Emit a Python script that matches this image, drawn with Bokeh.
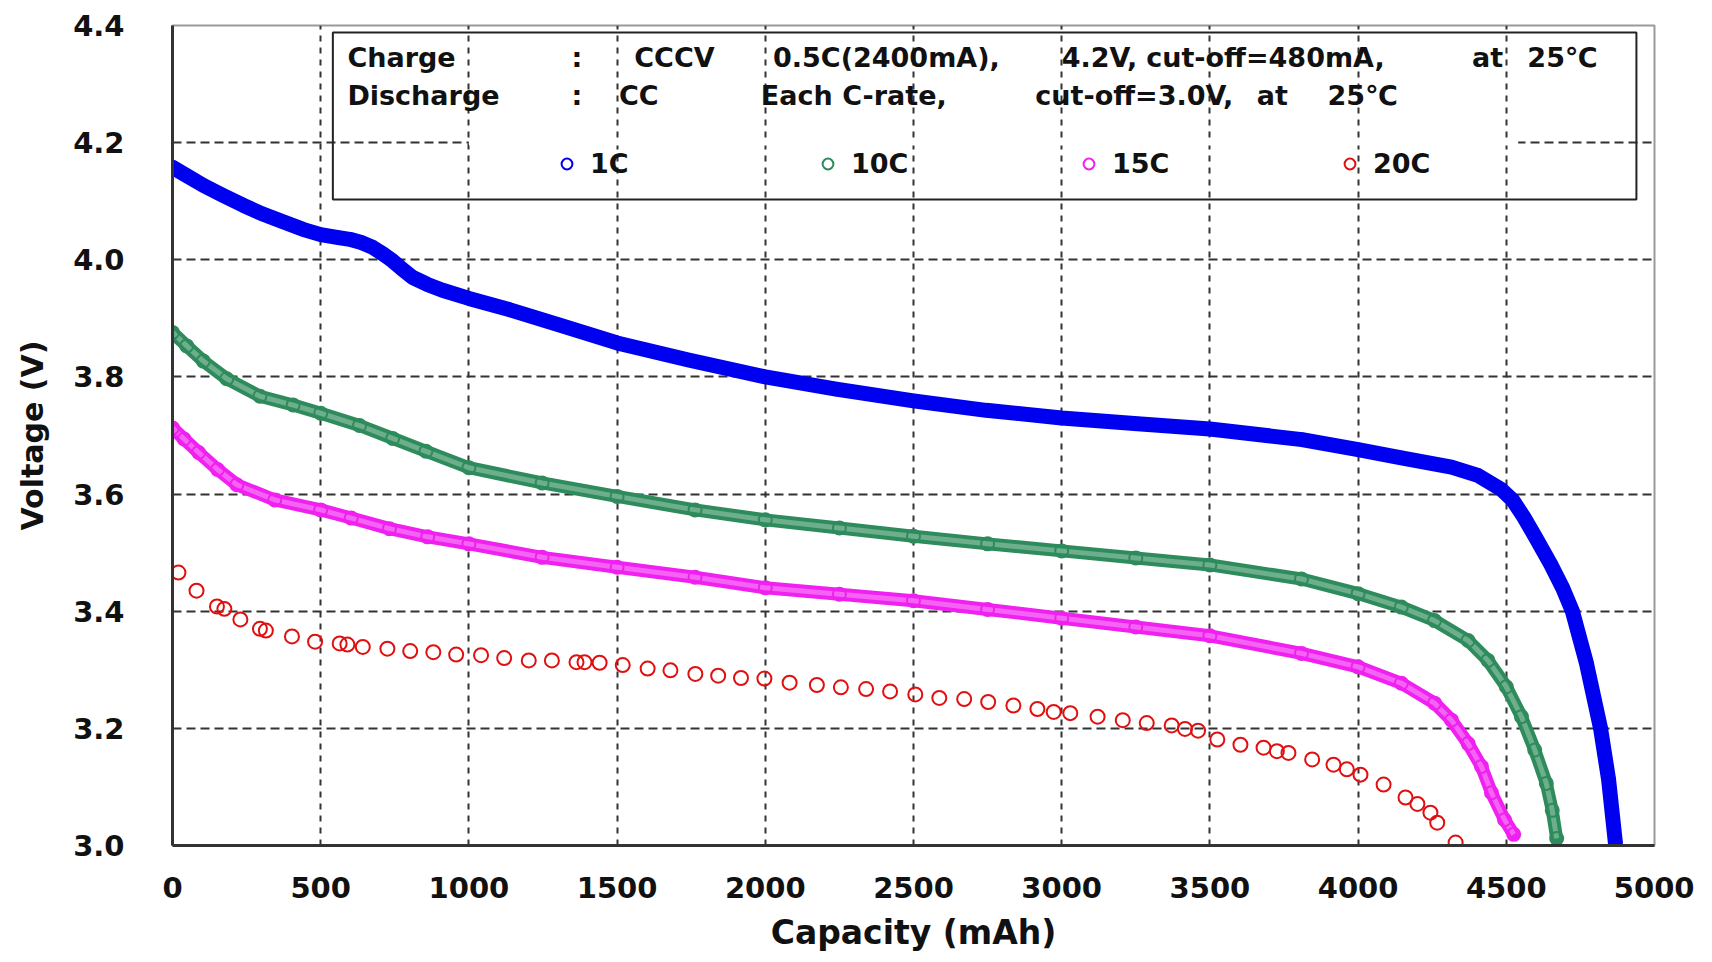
from bokeh.plotting import figure
from bokeh.models import Range1d, BoxAnnotation, Label, Legend, LegendItem, PrintfTickFormatter, FixedTicker
from bokeh.embed import file_html
from bokeh.resources import INLINE

# ---------------- data ----------------
series_names = ["1C", "10C", "15C", "20C"]

c1_x = [0, 50, 104, 170, 239, 300, 373, 440, 500, 560, 598, 640, 676, 710, 743, 775, 810, 860, 911,
        1000, 1136, 1304, 1500, 1741, 2000, 2239, 2500, 2745, 3000, 3256, 3500, 3811, 4000, 4146,
        4315, 4404, 4483, 4521, 4560, 4600, 4650, 4690, 4723, 4770, 4818, 4845, 4868]
c1_y = [4.158, 4.143, 4.127, 4.110, 4.093, 4.079, 4.065, 4.052, 4.043, 4.038, 4.035, 4.029, 4.021,
        4.010, 3.998, 3.984, 3.970, 3.958, 3.948, 3.934, 3.915, 3.889, 3.858, 3.829, 3.800, 3.779,
        3.759, 3.743, 3.730, 3.720, 3.711, 3.693, 3.676, 3.662, 3.646, 3.632, 3.608, 3.590, 3.560,
        3.525, 3.480, 3.440, 3.400, 3.312, 3.200, 3.113, 3.005]

c10_x = [0, 48, 104, 183, 295, 407, 500, 631, 743, 855, 1000, 1247, 1500, 1763, 2000, 2250, 2500,
         2750, 3000, 3250, 3500, 3809, 4000, 4146, 4258, 4371, 4438, 4500, 4551, 4596, 4635, 4655, 4670]
c10_y = [3.876, 3.853, 3.827, 3.797, 3.767, 3.752, 3.738, 3.717, 3.695, 3.673, 3.645, 3.619, 3.596,
         3.573, 3.556, 3.542, 3.528, 3.515, 3.503, 3.491, 3.479, 3.455, 3.430, 3.407, 3.384, 3.350,
         3.316, 3.271, 3.220, 3.163, 3.106, 3.060, 3.012]

c15_x = [0, 39, 88, 152, 217, 345, 500, 603, 732, 861, 1000, 1247, 1500, 1763, 2000, 2250, 2500,
         2750, 3000, 3250, 3500, 3809, 4000, 4146, 4258, 4315, 4371, 4416, 4450, 4494, 4525]
c15_y = [3.713, 3.694, 3.671, 3.642, 3.616, 3.590, 3.573, 3.559, 3.541, 3.527, 3.515, 3.492, 3.475,
         3.458, 3.440, 3.429, 3.418, 3.403, 3.388, 3.373, 3.358, 3.328, 3.305, 3.277, 3.243, 3.214,
         3.174, 3.135, 3.090, 3.044, 3.019]

c20_x = [20, 81, 150, 175, 229, 295, 315, 403, 481, 564, 590, 642, 725, 802, 880, 957, 1041, 1119,
         1202, 1280, 1363, 1390, 1441, 1519, 1603, 1680, 1764, 1841, 1918, 1997, 2082, 2174, 2255,
         2340, 2421, 2506, 2587, 2671, 2752, 2837, 2918, 2973, 3029, 3121, 3206, 3287, 3371, 3416,
         3460, 3525, 3603, 3681, 3726, 3765, 3845, 3917, 3962, 4008, 4086, 4160, 4200, 4244, 4267, 4329]
c20_y = [3.466, 3.435, 3.408, 3.404, 3.386, 3.370, 3.367, 3.357, 3.348, 3.345, 3.343, 3.339, 3.336,
         3.332, 3.330, 3.326, 3.325, 3.320, 3.316, 3.316, 3.313, 3.313, 3.312, 3.308, 3.302, 3.299,
         3.293, 3.290, 3.286, 3.285, 3.278, 3.274, 3.270, 3.267, 3.263, 3.258, 3.252, 3.250, 3.245,
         3.239, 3.233, 3.228, 3.226, 3.220, 3.214, 3.209, 3.205, 3.199, 3.196, 3.181, 3.172, 3.167,
         3.161, 3.158, 3.147, 3.138, 3.130, 3.121, 3.104, 3.082, 3.071, 3.056, 3.039, 3.005]

x_ticks = [0, 500, 1000, 1500, 2000, 2500, 3000, 3500, 4000, 4500, 5000]
y_ticks = [3.0, 3.2, 3.4, 3.6, 3.8, 4.0, 4.2, 4.4]

x_title = "Capacity (mAh)"
y_title = "Voltage (V)"
line1_tokens = ["Charge", ":", "CCCV", "0.5C(2400mA),", "4.2V,", "cut-off=480mA,", "at", "25\u2103"]
line2_tokens = ["Discharge", ":", "CC", "Each C-rate,", "cut-off=3.0V,", "at", "25\u2103"]

# ---------------- layout / style ----------------
FONT = "DejaVu Sans"
BLUE = "#0000f0"
GREEN = "#2e8b5c"
MAGENTA = "#f020f0"
RED = "#e01010"

line1_x = [590, 1346, 1558, 2026, 3000, 3285, 4384, 4571]
line2_x = [590, 1346, 1506, 1985, 2911, 3658, 3897]
line1_y = 4.345
line2_y = 4.281

p = figure(frame_width=1482, frame_height=820, output_backend="svg", toolbar_location=None,
           x_range=Range1d(0, 5000), y_range=Range1d(3.0, 4.4),
           min_border_left=172, min_border_right=40, min_border_top=25, min_border_bottom=96,
           background_fill_color="white", border_fill_color="white")

p.outline_line_color = "#9a9a9a"
p.outline_line_width = 2

# grid
p.xgrid.ticker = FixedTicker(ticks=x_ticks)
p.ygrid.ticker = FixedTicker(ticks=y_ticks)
p.xgrid.grid_line_color = "#333333"
p.xgrid.grid_line_width = 2
p.xgrid.grid_line_dash = "6 6"
p.ygrid.grid_line_color = "#333333"
p.ygrid.grid_line_width = 2
p.ygrid.grid_line_dash = "9 5"

# axes
for ax in (p.xaxis[0], p.yaxis[0]):
    ax.axis_line_color = "#333333"
    ax.axis_line_width = 3
    ax.major_tick_line_color = None
    ax.minor_tick_line_color = None
    ax.major_label_text_font = FONT
    ax.major_label_text_font_style = "bold"
    ax.major_label_text_font_size = "29px"
    ax.major_label_text_color = "#111111"
    ax.axis_label_text_font = FONT
    ax.axis_label_text_font_style = "bold"
    ax.axis_label_text_color = "#111111"

p.xaxis.ticker = FixedTicker(ticks=x_ticks)
p.yaxis.ticker = FixedTicker(ticks=y_ticks)
p.yaxis.formatter = PrintfTickFormatter(format="%.1f")
p.xaxis.axis_label = x_title
p.yaxis.axis_label = y_title
p.xaxis.axis_label_text_font_size = "33px"
p.yaxis.axis_label_text_font_size = "30px"
p.yaxis.major_label_standoff = 42
p.xaxis.major_label_standoff = 25
p.yaxis.axis_label_standoff = 20
p.xaxis.axis_label_standoff = 12

# series
p.line(c1_x, c1_y, line_width=15, color=BLUE, line_join="round", line_cap="round")
r1 = p.scatter(c1_x, c1_y, marker="circle", size=12, line_color=BLUE, line_width=2, fill_color=None)

p.line(c10_x, c10_y, line_width=13, color=GREEN, line_join="round", line_cap="round")
p.line(c10_x, c10_y, line_width=5, color="white", alpha=0.3, line_join="round")
r10 = p.scatter(c10_x, c10_y, marker="circle", size=13, line_color=GREEN, line_width=2, fill_color=None)

p.line(c15_x, c15_y, line_width=13, color=MAGENTA, line_join="round", line_cap="round")
p.line(c15_x, c15_y, line_width=5, color="white", alpha=0.3, line_join="round")
r15 = p.scatter(c15_x, c15_y, marker="circle", size=13, line_color=MAGENTA, line_width=2, fill_color=None)

r20 = p.scatter(c20_x, c20_y, marker="circle", size=14, line_color=RED, line_width=2, fill_color=None)

# info box (the 4.2 grid line is hidden behind the legend row, as in the original)
p.add_layout(BoxAnnotation(left=1000, right=4540, bottom=4.195, top=4.205, fill_color="white",
                           fill_alpha=1, line_alpha=0))
box = BoxAnnotation(left=541, right=4939, top=4.388, bottom=4.103, fill_alpha=0,
                    line_color="#222222", line_alpha=1, line_width=2)
p.add_layout(box)

for tok, xx in zip(line1_tokens, line1_x):
    p.add_layout(Label(x=xx, y=line1_y, text=tok, text_font=FONT, text_font_style="bold",
                       text_font_size="27px", text_baseline="middle", text_color="#111111"))
for tok, xx in zip(line2_tokens, line2_x):
    p.add_layout(Label(x=xx, y=line2_y, text=tok, text_font=FONT, text_font_style="bold",
                       text_font_size="27px", text_baseline="middle", text_color="#111111"))

legend = Legend(items=[LegendItem(label=n, renderers=[r]) for n, r in zip(series_names, [r1, r10, r15, r20])],
                orientation="horizontal", location=(381, 666), padding=0, margin=0, spacing=0,
                glyph_width=27, glyph_height=27, label_standoff=10, label_width=224, label_height=25,
                label_text_font=FONT, label_text_font_style="bold", label_text_font_size="27px",
                label_text_color="#111111", border_line_color=None, background_fill_alpha=0)
p.add_layout(legend)

open("out.html", "w").write(file_html(p, INLINE))
